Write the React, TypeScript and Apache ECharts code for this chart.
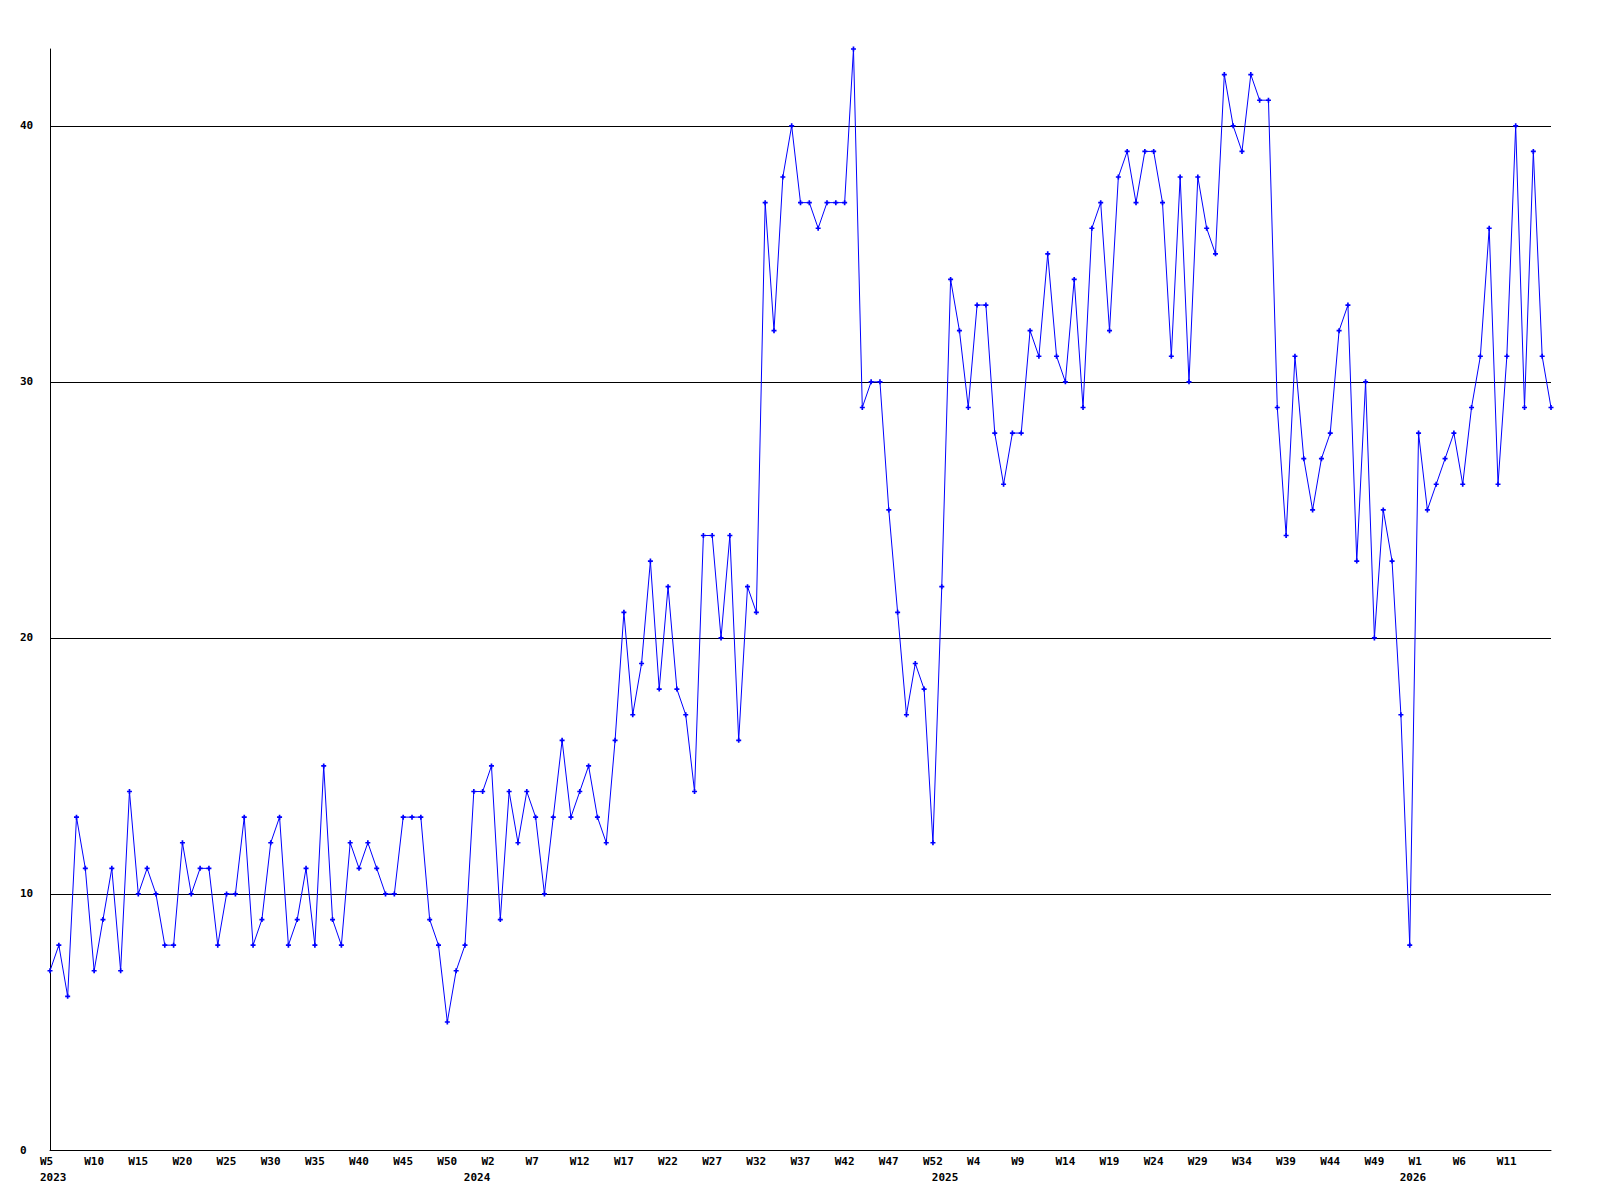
import React, { useEffect, useRef } from "react";
import * as echarts from "echarts";

// Week ranges of each year (categories are "W<n>" labels)
const yearRanges = [
  { year: "2023", first: 5, last: 52 },
  { year: "2024", first: 0, last: 52 },
  { year: "2025", first: 0, last: 52 },
  { year: "2026", first: 0, last: 16 },
];

const values2023 = [
  7, 8, 6, 13, 11, 7, 9, 11, 7, 14, 10, 11, 10, 8, 8, 12, 10, 11, 11, 8, 10, 10, 13, 8, 9,
  12, 13, 8, 9, 11, 8, 15, 9, 8, 12, 11, 12, 11, 10, 10, 13, 13, 13, 9, 8, 5, 7, 8,
];
const values2024 = [
  14, 14, 15, 9, 14, 12, 14, 13, 10, 13, 16, 13, 14, 15, 13, 12, 16, 21, 17, 19, 23, 18, 22,
  18, 17, 14, 24, 24, 20, 24, 16, 22, 21, 37, 32, 38, 40, 37, 37, 36, 37, 37, 37, 43, 29, 30,
  30, 25, 21, 17, 19, 18, 12,
];
const values2025 = [
  22, 34, 32, 29, 33, 33, 28, 26, 28, 28, 32, 31, 35, 31, 30, 34, 29, 36, 37, 32, 38, 39, 37,
  39, 39, 37, 31, 38, 30, 38, 36, 35, 42, 40, 39, 42, 41, 41, 29, 24, 31, 27, 25, 27, 28, 32,
  33, 23, 30, 20, 25, 23, 17,
];
const values2026 = [8, 28, 25, 26, 27, 28, 26, 29, 31, 36, 26, 31, 40, 29, 39, 31, 29];

const yTicks = [0, 10, 20, 30, 40];

const FONT = "DejaVu Sans Mono";

export default function App() {
  const ref = useRef<HTMLDivElement>(null);

  useEffect(() => {
    if (!ref.current) return;
    const chart = echarts.init(ref.current, undefined, { renderer: "svg" });

    const categories: string[] = [];
    const yearLabels: string[] = [];
    yearRanges.forEach((r) => {
      for (let w = r.first; w <= r.last; w++) {
        yearLabels.push(w === r.first ? r.year : "");
        categories.push(r.year + " W" + w);
      }
    });
    const weekLabels = categories.map((c) => c.split(" ")[1]);
    const values = [...values2023, ...values2024, ...values2025, ...values2026];
    const lastIdx = categories.length - 1;

    const labelStyle = {
      fontFamily: FONT,
      fontWeight: "bold" as const,
      fontSize: 11,
      color: "#000",
    };

    const plus = "path://M2,0H4V2H6V4H4V6H2V4H0V2H2Z";

    chart.setOption({
      animation: false,
      backgroundColor: "#fff",
      grid: [
        { left: 50, right: 49, top: 49, bottom: 50, containLabel: false },
        { left: 40, right: 59, top: 49, bottom: 50, containLabel: false },
      ],
      xAxis: [
        {
          type: "category",
          gridIndex: 0,
          data: categories,
          boundaryGap: false,
          axisLine: { show: true, lineStyle: { color: "#000", width: 1 } },
          axisTick: { show: false },
          axisLabel: { show: false },
          splitLine: { show: false },
        },
        {
          type: "category",
          gridIndex: 1,
          data: weekLabels,
          boundaryGap: false,
          axisLine: { show: false },
          axisTick: { show: false },
          splitLine: { show: false },
          axisLabel: {
            ...labelStyle,
            interval: 4,
            align: "left",
            margin: 6,
            formatter: (v: string, i: number) => (i === lastIdx ? "" : v),
          },
        },
        {
          type: "category",
          gridIndex: 1,
          data: yearLabels,
          boundaryGap: false,
          position: "bottom",
          axisLine: { show: false },
          axisTick: { show: false },
          splitLine: { show: false },
          axisLabel: { ...labelStyle, interval: 0, align: "left", margin: 22 },
        },
      ],
      yAxis: [
        {
          type: "value",
          gridIndex: 0,
          min: yTicks[0],
          max: 43,
          interval: 10,
          axisLine: { show: true, lineStyle: { color: "#000", width: 1 } },
          axisTick: { show: false },
          axisLabel: {
            ...labelStyle,
            align: "left",
            margin: 30,
            showMaxLabel: false,
            formatter: (v: number) => (yTicks.includes(v) ? String(v) : ""),
          },
          splitLine: {
            show: true,
            showMaxLine: false,
            lineStyle: { color: "#000", width: 1 },
          },
        },
        {
          type: "value",
          gridIndex: 1,
          min: 0,
          max: 43,
          show: false,
        },
      ],
      series: [
        {
          type: "line",
          xAxisIndex: 0,
          yAxisIndex: 0,
          data: values,
          symbol: plus,
          symbolSize: 5,
          showSymbol: true,
          showAllSymbol: true,
          lineStyle: { color: "#0000ff", width: 1 },
          itemStyle: { color: "#0000ff" },
          emphasis: { disabled: true },
        },
      ],
    });

    return () => chart.dispose();
  }, []);

  return (
    <div
      ref={ref}
      style={{
        position: "fixed",
        left: 0,
        top: 0,
        width: 1600,
        height: 1200,
        background: "#fff",
      }}
    />
  );
}
